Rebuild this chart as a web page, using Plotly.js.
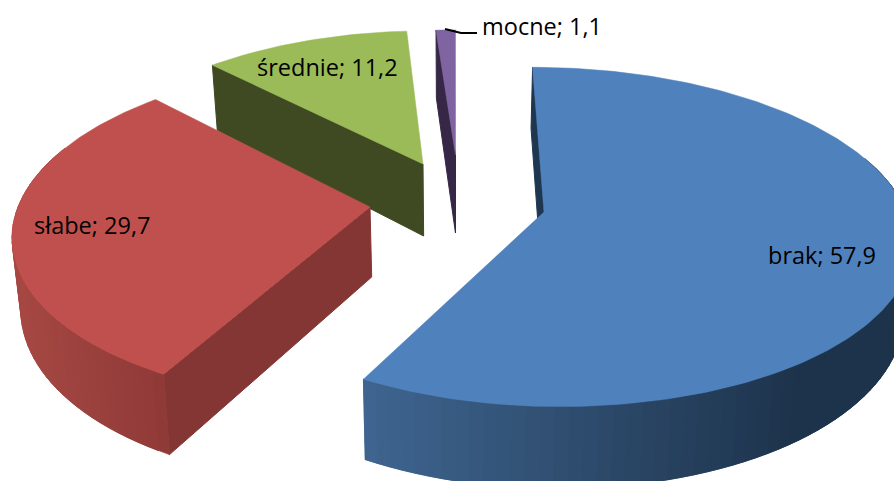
<!DOCTYPE html>
<html><head><meta charset="utf-8">
<script src="https://cdn.plot.ly/plotly-3.0.1.min.js"></script>
<style>html,body{margin:0;padding:0;background:#fff}#c{width:894px;height:481px}</style>
</head><body><div id="c"></div>
<script>
// Data
const categories = ["brak", "słabe", "średnie", "mocne"];
const values = [57.9, 29.7, 11.2, 1.1];
const labels = ["brak; 57,9", "słabe; 29,7", "średnie; 11,2", "mocne; 1,1"];

// Look of each slice
const topColors = ["#4f81bd", "#c0504d", "#9bbb59", "#8064a2"];
const cutColors = ["#1f3650", "#843635", "#3f4a22", "#352745"];
const rimLeft   = [[63,101,144], [166,72,67], [63,74,34], [53,39,69]];
const rimRight  = [[29,51,75], [142,57,55], [63,74,34], [53,39,69]];
const rimSpan   = [[362,800], [15,170], [0,1], [0,1]];

// Exploded apex of each slice, its size factors and thickness
const apexX  = [544, 370, 423, 455.5];
const apexY  = [212, 207, 164, 155];
const sizeX  = [1, 1, 0.96, 0.915];
const sizeXRight = [1.03, 1, 1, 1];
const sizeY  = [1, 1, 0.92, 0.864];
const thick  = [70, 70, 72, 78];
const drawOrder = [3, 2, 1, 0];

// Projection
const RX = 352, RY = 166, PERSP = 0.147, VX = 455, LEAN = 0.02;
const total = values.reduce((a, b) => a + b, 0);
const DEG = Math.PI / 180;
function project(i, th, r, lower) {
  const X = r * Math.sin(th), Z = r * Math.cos(th), f = 1 / (1 + PERSP * Z);
  const sx = sizeX[i] * (X > 0 ? sizeXRight[i] : 1);
  let x = VX + (apexX[i] - VX + RX * sx * X) * f;
  let y = apexY[i] - RY * sizeY[i] * Z * f;
  if (lower) { y += thick[i] * f; x += LEAN * (VX - x); }
  return [x, y];
}
function poly(pts, color, w) {
  const xs = pts.map(p => p[0]), ys = pts.map(p => p[1]);
  xs.push(xs[0]); ys.push(ys[0]);
  return {type: "scatter", mode: "lines", x: xs, y: ys, fill: "toself", fillcolor: color,
    line: {color: color, width: w}, hoverinfo: "skip", showlegend: false};
}
let acc = 0;
const angles = values.map(v => { const a = acc; acc += v; return [a / total * 2 * Math.PI, acc / total * 2 * Math.PI]; });
const traces = [];
drawOrder.forEach(i => {
  const [a0, a1] = angles[i];
  // visible cut face: the one where the slice starts
  traces.push(poly([project(i, a0, 1, false), project(i, 0, 0, false), project(i, 0, 0, true), project(i, a0, 1, true)], cutColors[i], 1));
  // rim, near side only, in short shaded pieces; each piece runs under the next one
  const n = Math.max(2, Math.round((a1 - a0) / (2 * DEG)));
  for (let k = 0; k < n; k++) {
    const t0 = a0 + (a1 - a0) * k / n, t1 = a0 + (a1 - a0) * Math.min(n, k + 2) / n;
    const mid = a0 + (a1 - a0) * (k + 0.5) / n;
    if (Math.cos(mid) > 0.35) continue;
    const pm = project(i, mid, 1, false);
    const p0 = project(i, t0, 1, false), p1 = project(i, t1, 1, false);
    const q0 = project(i, t0, 1, true), q1 = project(i, t1, 1, true);
    const u = Math.min(1, Math.max(0, (pm[0] - rimSpan[i][0]) / (rimSpan[i][1] - rimSpan[i][0])));
    const c = rimLeft[i].map((v, j) => Math.round(v + (rimRight[i][j] - v) * u));
    traces.push(poly([p0, p1, q1, q0], `rgb(${c.join(",")})`, 0.7));
  }
  // top face
  const top = [project(i, 0, 0, false)];
  const m = Math.max(4, Math.round((a1 - a0) / DEG));
  for (let k = 0; k <= m; k++) top.push(project(i, a0 + (a1 - a0) * k / m, 1, false));
  traces.push(poly(top, topColors[i], 0.5));
});
// leader line of the smallest slice
traces.push({type: "scatter", mode: "lines", x: [445, 461, 477], y: [29, 33, 33],
  line: {color: "#000", width: 2}, hoverinfo: "skip", showlegend: false});

const labelX = [822, 91.5, 327, 541.5];
const labelY = [255, 225, 67, 26];
const layout = {
  width: 894, height: 481, margin: {l: 0, r: 0, t: 0, b: 0},
  paper_bgcolor: "#fff", plot_bgcolor: "#fff", showlegend: false,
  xaxis: {range: [0, 894], visible: false, fixedrange: true},
  yaxis: {range: [481, 0], visible: false, fixedrange: true},
  annotations: labels.map((t, i) => ({text: t, x: labelX[i], y: labelY[i], xref: "x", yref: "y",
    showarrow: false, xanchor: "center", yanchor: "middle",
    font: {family: "'Open Sans', sans-serif", size: 23.5, color: "#000"}}))
};
Plotly.newPlot("c", traces, layout, {displayModeBar: false, staticPlot: true});
</script></body></html>
